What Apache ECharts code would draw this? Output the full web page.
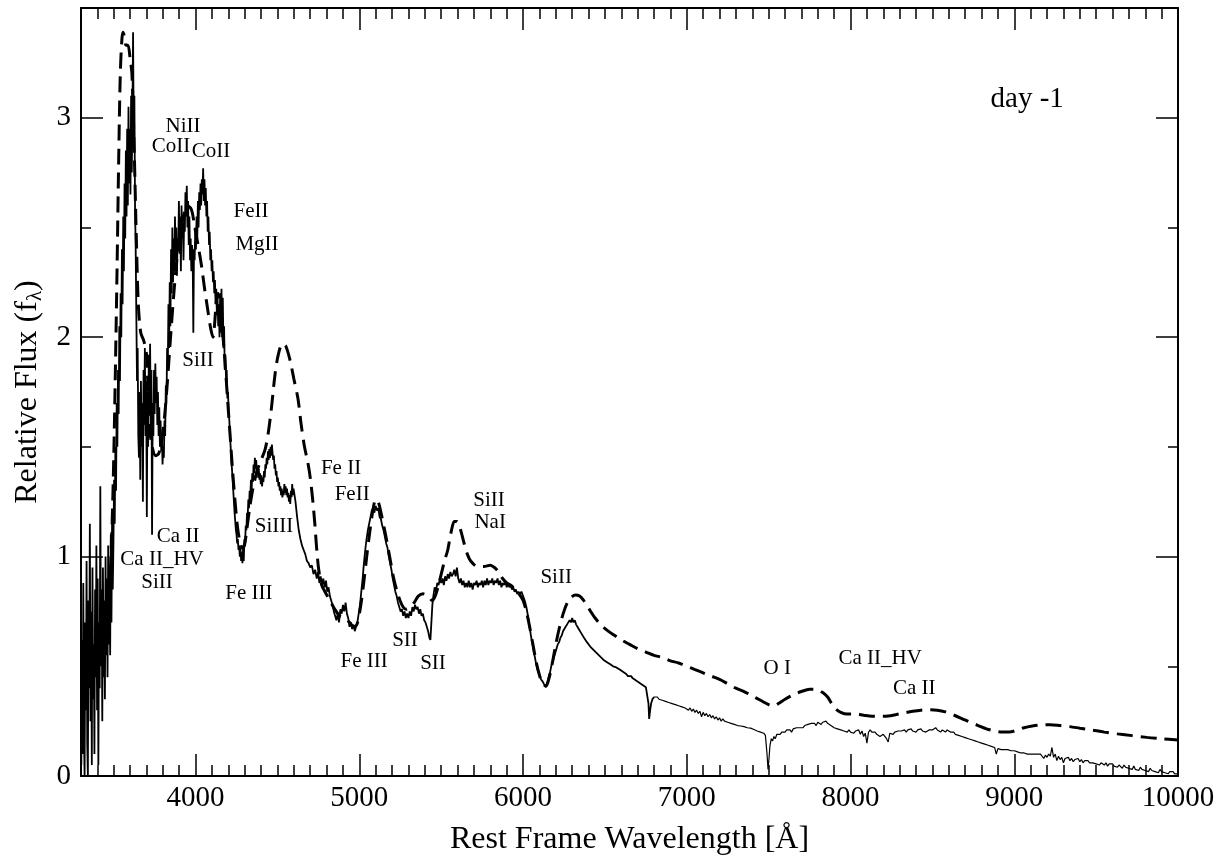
<!DOCTYPE html>
<html>
<head>
<meta charset="utf-8">
<script src="https://cdn.jsdelivr.net/npm/echarts@6/dist/echarts.min.js"></script>
<style>
html,body{margin:0;padding:0;background:#fff;}
#chart{width:1225px;height:859px;}
</style>
</head>
<body>
<div id="chart"></div>
<script>
// ---- Observed spectrum (solid), [wavelength Å, relative flux] ----
const obsBlue = [
[3302,0.05],[3306,0.62],[3310,0.10],[3314,0.88],[3318,0.20],[3322,0.00],[3326,0.70],[3330,0.30],[3334,0.98],[3338,0.15],
[3342,0.00],[3346,0.80],[3350,0.40],[3354,1.15],[3358,0.25],[3362,0.75],[3366,0.05],[3370,0.95],[3374,0.35],[3378,0.60],
[3382,0.10],[3386,0.85],[3390,0.45],[3394,1.05],[3398,0.30],[3402,0.90],[3406,0.05],[3410,0.70],[3414,0.40],[3418,1.32],
[3422,0.50],[3426,0.85],[3430,0.25],[3434,0.95],[3438,0.45],[3442,0.80],[3446,0.35],[3450,1.00],[3454,0.55],[3458,0.90],
[3462,0.45],[3466,1.05],[3470,0.60],[3474,0.95],[3478,0.55],[3482,1.10],[3486,0.70],[3490,1.20],[3494,0.85],[3498,1.05],
[3502,1.35],[3506,1.15],[3510,1.50],[3514,1.30],[3518,1.70],[3522,1.50],[3526,1.85],[3530,1.65],[3534,2.05],[3538,1.80],
[3542,2.20],[3546,2.00],[3550,2.40],[3554,2.15],[3558,2.55],[3562,2.30],[3566,2.70],[3570,2.45],[3574,2.85],[3578,2.55],
[3582,2.95],[3586,2.60],[3590,3.05],[3594,2.70],[3598,2.95],[3602,2.65],[3606,3.10],[3610,2.75],[3614,3.00],[3618,3.39],
[3622,2.90],[3626,3.10],[3630,2.60],[3634,2.40],[3638,2.10],[3642,1.80],[3646,1.95],[3650,1.55],
[3654,1.45],[3658,1.75],[3662,1.35],[3666,1.80],[3670,1.50],[3674,1.70],[3678,1.25],[3682,1.85],[3686,1.60],[3690,1.95],
[3694,1.55],[3698,1.80],[3702,1.18],[3706,1.75],[3710,1.50],[3714,1.92],[3718,1.65],[3722,1.97],[3726,1.60],[3730,1.85],
[3734,1.10],[3738,1.70],[3742,1.55],[3746,1.85],[3750,1.65],[3754,1.88],[3758,1.70],[3762,1.82],[3766,1.60],[3770,1.75],
[3774,1.55],[3778,1.68],[3782,1.50],[3786,1.62],[3790,1.48],[3794,1.55],[3798,1.42],[3802,1.50],[3806,1.45],[3810,1.62],
[3814,1.55],[3818,1.78],[3822,1.70],[3826,1.95],[3830,1.85],[3834,2.15],[3838,1.95],[3842,2.25],[3846,2.05],[3850,2.40],
[3854,2.20],[3858,2.50],[3862,2.25],[3866,2.45],[3870,2.30],[3874,2.55],[3878,2.35],[3882,2.50],[3886,2.28],[3890,2.45],
[3894,2.40],[3898,2.62],[3902,2.38],[3906,2.55],[3910,2.30],[3914,2.60],[3918,2.45],[3922,2.52],[3926,2.35],[3930,2.55],
[3934,2.48],[3938,2.66],[3942,2.55],[3946,2.69],[3950,2.50],[3954,2.62],[3958,2.42],[3962,2.55],[3966,2.35],[3970,2.45],
[3974,2.30],[3978,2.42],[3982,2.38],[3986,2.02],[3990,2.40],[3994,2.35],[3998,2.50],[4002,2.40],[4006,2.55],[4010,2.45],
[4014,2.62],[4018,2.50],[4022,2.66],[4026,2.58],[4030,2.70],[4034,2.60],[4038,2.72],[4042,2.65],[4046,2.77],[4050,2.62],
[4054,2.72],[4058,2.60],[4062,2.68],[4066,2.55],[4070,2.62],[4074,2.48],[4078,2.55],[4082,2.42],[4086,2.48],[4090,2.35],
[4094,2.40],[4098,2.30],[4102,2.35],[4106,2.25],[4110,2.30],[4114,2.20],[4118,2.26],[4122,2.15],[4126,2.22],[4130,2.10],
[4134,2.18],[4138,2.05],[4142,2.15],[4146,2.00],[4150,2.20],[4154,2.02],[4158,2.22],[4162,2.00],[4166,2.18],[4170,1.95],
[4174,2.05],[4178,1.85],[4182,1.92],[4186,1.80],[4190,1.85],[4194,1.72],[4198,1.75],[4202,1.65],[4206,1.62],[4210,1.55],
[4214,1.50],[4218,1.44],[4222,1.40],[4226,1.35],[4230,1.30],[4234,1.25],[4238,1.20],[4242,1.16],[4246,1.12],[4250,1.10],
[4254,1.06],[4258,1.08],[4262,1.03],[4266,1.05],[4270,1.00],[4274,1.04],[4278,0.98],[4282,1.02],[4286,0.97],[4290,1.04],
[4294,0.98],[4298,1.08],[4302,1.05],[4306,1.14],[4310,1.12],[4314,1.20],[4318,1.18],[4322,1.26],[4326,1.22],[4330,1.30],
[4334,1.27],[4338,1.35],[4342,1.30],[4346,1.38],[4350,1.34],[4354,1.42],[4358,1.38],[4362,1.45],[4366,1.40],[4370,1.44],
[4374,1.38],[4378,1.41],[4382,1.36],[4386,1.40],[4390,1.35],[4394,1.38],[4398,1.33],[4402,1.37],[4406,1.32],[4410,1.36],
[4414,1.34],[4418,1.39],[4422,1.36],[4426,1.42],[4430,1.40],[4434,1.45],[4438,1.42],[4442,1.48],[4446,1.44],[4450,1.49],
[4454,1.45],[4458,1.50],[4462,1.46],[4466,1.51],[4470,1.47],[4474,1.44],[4478,1.46],[4482,1.40],[4486,1.42],[4490,1.37],
[4494,1.39],[4498,1.34],[4502,1.36],[4506,1.32],[4510,1.34],[4514,1.30],[4518,1.32],[4522,1.28],[4526,1.31],[4530,1.27],
[4534,1.30],[4538,1.28],[4542,1.33],[4546,1.29],[4550,1.32],[4554,1.28],[4558,1.31],[4562,1.27],[4566,1.29],[4570,1.25],
[4574,1.28],[4578,1.24],[4582,1.30],[4586,1.27],[4590,1.33],[4594,1.28],[4598,1.31],[4602,1.29],[4610,1.25],[4620,1.18],
[4630,1.12],[4640,1.08]
];
const obsMid = [
[4650,1.05],[4660,1.03],[4670,1.01],[4680,0.98],[4690,0.97],[4700,0.95],[4710,0.96],[4720,0.92],[4730,0.94],[4740,0.90],
[4748,0.93],[4756,0.88],[4764,0.91],[4772,0.87],[4780,0.90],[4788,0.86],[4796,0.89],[4804,0.84],[4812,0.86],[4820,0.82],
[4828,0.80],[4836,0.78],[4844,0.75],[4852,0.73],[4860,0.71],[4868,0.74],[4876,0.70],[4884,0.76],[4892,0.74],[4900,0.78],
[4908,0.75],[4916,0.79],[4924,0.74],[4932,0.72],[4940,0.68],[4948,0.70],[4956,0.67],[4964,0.69],[4972,0.66],[4980,0.68],
[4988,0.70],[4996,0.74],[5004,0.78],[5012,0.84],[5020,0.90],[5028,0.97],[5036,1.03],[5044,1.08],[5052,1.12],[5060,1.15],
[5068,1.18],[5076,1.21],[5084,1.22],[5092,1.20],[5100,1.23],[5108,1.21],[5116,1.22],[5124,1.18],[5132,1.17],[5140,1.14],
[5148,1.12],[5156,1.09],[5164,1.06],[5172,1.04],[5180,1.00],[5188,0.97],[5196,0.94],[5204,0.90],[5212,0.87],[5220,0.84],
[5228,0.82],[5236,0.79],[5244,0.77],[5252,0.75],[5260,0.76],[5268,0.73],[5276,0.75],[5284,0.72],[5292,0.74],[5300,0.72],
[5308,0.75],[5316,0.73],[5324,0.77],[5332,0.75],[5340,0.78],[5348,0.76],[5356,0.77],[5364,0.74],[5372,0.76],[5380,0.73],
[5388,0.74],[5396,0.71],[5404,0.70],[5412,0.68],[5420,0.66],[5428,0.63],[5434,0.62],[5440,0.70],[5446,0.78],[5452,0.82],
[5460,0.86],[5468,0.84],[5476,0.88],[5484,0.87],[5492,0.90],[5500,0.88],[5508,0.90],[5516,0.87],[5524,0.91],[5532,0.89],
[5540,0.92],[5548,0.90],[5556,0.93],[5564,0.91],[5572,0.92],[5580,0.94],[5588,0.91],[5596,0.95],[5604,0.90],[5612,0.88],
[5620,0.90],[5628,0.87],[5636,0.89],[5644,0.86],[5652,0.88],[5660,0.86],[5668,0.89],[5676,0.86],[5684,0.88],[5692,0.85],
[5700,0.88],[5708,0.87],[5716,0.89],[5724,0.86],[5732,0.88],[5740,0.87],[5748,0.89],[5756,0.86],[5764,0.89],[5772,0.87],
[5780,0.90],[5788,0.87],[5796,0.89],[5804,0.88],[5812,0.90],[5820,0.87],[5828,0.89],[5836,0.88],[5844,0.90],[5852,0.87],
[5860,0.89],[5868,0.86],[5876,0.88],[5884,0.87],[5892,0.89],[5900,0.86],[5908,0.88],[5916,0.86],[5924,0.87],[5932,0.85],
[5940,0.86],[5948,0.84],[5956,0.85],[5964,0.83],[5972,0.84],[5980,0.83],[5990,0.84],[6000,0.82],[6010,0.80],[6020,0.77],
[6030,0.73],[6040,0.68],[6050,0.63],[6060,0.59],[6070,0.55],[6080,0.51],[6090,0.48],[6100,0.46],[6110,0.44],[6120,0.43],
[6130,0.415],[6140,0.405],[6148,0.41],[6156,0.45],[6164,0.47],[6172,0.50],[6180,0.52],[6188,0.54],[6196,0.56],[6204,0.58],
[6212,0.60],[6220,0.61],[6228,0.63],[6236,0.64],[6244,0.66],[6252,0.67],[6260,0.68],[6268,0.69],[6276,0.70],[6284,0.71],
[6292,0.70],[6300,0.72],[6308,0.70],[6316,0.71],[6324,0.69],[6332,0.68],[6340,0.67],[6348,0.665],[6356,0.65],[6364,0.645],
[6372,0.63],[6380,0.625],[6390,0.61],[6400,0.605],[6410,0.59],[6420,0.585],[6430,0.575],[6440,0.57],[6450,0.56],[6460,0.555],
[6470,0.545],[6480,0.54],[6490,0.53],[6500,0.535],[6510,0.52],[6520,0.515],[6530,0.51],[6540,0.515],[6550,0.50],[6560,0.505],
[6570,0.495],[6580,0.49],[6590,0.485],[6600,0.48],[6610,0.475],[6620,0.47],[6630,0.465],[6640,0.455],[6650,0.45],[6660,0.455],
[6670,0.445],[6680,0.44],[6690,0.435],[6700,0.43],[6710,0.425],[6720,0.42],[6730,0.415],[6740,0.41],[6750,0.405],[6760,0.40],
[6766,0.33],[6770,0.26],[6776,0.30],[6782,0.33],[6790,0.35],[6800,0.36]
];
const obsRed = [
[6810,0.355],[6820,0.36],[6830,0.35],[6840,0.355],[6850,0.345],[6860,0.35],[6870,0.34],[6880,0.345],[6890,0.335],[6900,0.34],
[6910,0.33],[6920,0.335],[6930,0.325],[6940,0.33],[6950,0.32],[6960,0.325],[6970,0.315],[6980,0.32],[6990,0.31],[7000,0.315],
[7010,0.30],[7020,0.31],[7030,0.295],[7040,0.305],[7050,0.29],[7060,0.30],[7070,0.285],[7080,0.295],[7090,0.27],[7100,0.29],
[7110,0.275],[7120,0.285],[7130,0.27],[7140,0.28],[7150,0.265],[7160,0.275],[7170,0.26],[7180,0.27],[7190,0.255],[7200,0.265],
[7210,0.25],[7220,0.26],[7230,0.25],[7240,0.255],[7250,0.245],[7260,0.25],[7270,0.24],[7280,0.245],[7290,0.235],[7300,0.24],
[7310,0.23],[7320,0.235],[7330,0.228],[7340,0.232],[7350,0.225],[7360,0.228],[7370,0.22],[7380,0.225],[7390,0.218],[7400,0.222],
[7410,0.212],[7420,0.215],[7430,0.205],[7440,0.21],[7450,0.2],[7460,0.203],[7470,0.195],[7480,0.185],[7490,0.10],[7496,0.03],
[7502,0.08],[7508,0.14],[7516,0.17],[7524,0.16],[7532,0.18],[7540,0.17],[7550,0.19],[7560,0.185],[7570,0.19],[7580,0.20],
[7590,0.195],[7600,0.20],[7610,0.21],[7620,0.205],[7630,0.21],[7640,0.20],[7650,0.215],[7660,0.21],[7670,0.22],[7680,0.215],
[7690,0.22],[7700,0.225],[7710,0.22],[7720,0.23],[7730,0.225],[7740,0.235],[7750,0.23],[7760,0.24],[7770,0.235],[7780,0.24],
[7790,0.23],[7800,0.245],[7810,0.24],[7820,0.235],[7830,0.245],[7840,0.24],[7850,0.25],[7860,0.24],[7870,0.245],[7880,0.23],
[7890,0.235],[7900,0.22],[7910,0.225],[7920,0.215],[7930,0.22],[7940,0.21],[7950,0.215],[7960,0.205],[7970,0.21],[7980,0.20],
[7990,0.21],[8000,0.20],[8010,0.205],[8020,0.195],[8030,0.205],[8040,0.20],[8050,0.21],[8060,0.19],[8070,0.205],[8080,0.18],
[8090,0.195],[8100,0.15],[8110,0.20],[8120,0.21],[8130,0.20],[8140,0.195],[8150,0.20],[8160,0.19],[8170,0.185],[8180,0.18],
[8190,0.185],[8200,0.19],[8210,0.185],[8220,0.17],[8230,0.155],[8240,0.195],[8250,0.20],[8260,0.19],[8270,0.20],[8280,0.195],
[8290,0.205],[8300,0.20],[8310,0.205],[8320,0.20],[8330,0.21],[8340,0.20],[8350,0.21],[8360,0.205],[8370,0.215],[8380,0.205],
[8390,0.21],[8400,0.20],[8410,0.21],[8420,0.205],[8430,0.215],[8440,0.205],[8450,0.21],[8460,0.20],[8470,0.205],[8480,0.21],
[8490,0.215],[8500,0.21],[8510,0.215],[8520,0.22],[8530,0.21],[8540,0.215],[8550,0.20],[8560,0.21],[8570,0.205],[8580,0.20],
[8590,0.21],[8600,0.205],[8610,0.20],[8620,0.195],[8630,0.20],[8640,0.19],[8650,0.195],[8660,0.185],[8670,0.19],[8680,0.18],
[8690,0.185],[8700,0.175],[8710,0.18],[8720,0.17],[8730,0.175],[8740,0.165],[8750,0.17],[8760,0.16],[8770,0.165],[8780,0.155],
[8790,0.16],[8800,0.15],[8810,0.155],[8820,0.145],[8830,0.15],[8840,0.14],[8850,0.145],[8860,0.135],[8870,0.14],[8880,0.13],
[8890,0.10],[8900,0.125],[8910,0.13],[8920,0.12],[8930,0.125],[8940,0.12],[8950,0.115],[8960,0.12],[8970,0.125],[8980,0.115],
[8990,0.12],[9000,0.115],[9010,0.12],[9020,0.11],[9030,0.115],[9040,0.105],[9050,0.11],[9060,0.105],[9070,0.11],[9080,0.10],
[9090,0.105],[9100,0.10],[9110,0.105],[9120,0.10],[9130,0.095],[9140,0.10],[9150,0.095],[9160,0.10],[9170,0.09],[9180,0.08],
[9190,0.095],[9200,0.085],[9210,0.10],[9220,0.09],[9230,0.13],[9240,0.085],[9250,0.10],[9260,0.07],[9270,0.09],[9280,0.075],
[9290,0.085],[9300,0.06],[9310,0.08],[9320,0.075],[9330,0.085],[9340,0.07],[9350,0.08],[9360,0.065],[9370,0.075],[9380,0.07],
[9390,0.08],[9400,0.065],[9410,0.075],[9420,0.06],[9430,0.07],[9440,0.065],[9450,0.07],[9460,0.06],[9470,0.065],[9480,0.06],
[9490,0.065],[9500,0.055],[9510,0.06],[9520,0.05],[9530,0.06],[9540,0.055],[9550,0.05],[9560,0.06],[9570,0.045],[9580,0.055],
[9590,0.05],[9600,0.055],[9610,0.045],[9620,0.05],[9630,0.04],[9640,0.05],[9650,0.045],[9660,0.035],[9670,0.05],[9680,0.04],
[9690,0.045],[9700,0.035],[9710,0.04],[9720,0.03],[9730,0.045],[9740,0.03],[9750,0.035],[9760,0.025],[9770,0.04],[9780,0.03],
[9790,0.035],[9800,0.025],[9810,0.03],[9820,0.02],[9830,0.035],[9840,0.025],[9850,0.03],[9860,0.02],[9870,0.025],[9880,0.015],
[9890,0.03],[9900,0.02],[9910,0.025],[9920,0.015],[9930,0.02],[9940,0.01],[9950,0.02],[9960,0.015],[9970,0.02],[9980,0.01],
[9990,0.015],[10000,0.01]
];

// ---- Model spectrum (dashed), [wavelength Å, relative flux] ----
const modelSpec = [
[3460,0.60],[3475,0.85],[3490,1.15],[3500,1.45],[3510,1.85],[3520,2.30],[3530,2.80],[3540,3.20],[3550,3.36],[3557,3.39],
[3565,3.37],[3575,3.33],[3587,3.33],[3600,3.27],[3611,3.20],[3625,2.85],[3638,2.45],[3650,2.15],[3665,2.02],[3685,1.98],
[3700,1.92],[3710,1.75],[3720,1.58],[3735,1.50],[3755,1.46],[3775,1.47],[3795,1.54],[3812,1.65],[3828,1.80],[3845,1.98],[3865,2.18],
[3885,2.35],[3905,2.47],[3925,2.55],[3950,2.60],[3975,2.58],[3995,2.50],[4015,2.42],[4035,2.33],[4055,2.22],[4075,2.12],
[4092,2.04],[4106,2.00],[4116,2.06],[4126,2.16],[4136,2.20],[4148,2.16],[4162,2.05],[4178,1.90],[4194,1.73],[4210,1.56],
[4225,1.40],[4240,1.26],[4255,1.14],[4270,1.07],[4285,1.04],[4298,1.05],[4312,1.12],[4330,1.22],[4350,1.31],[4375,1.39],
[4400,1.44],[4425,1.49],[4445,1.57],[4465,1.69],[4485,1.83],[4505,1.92],[4530,1.97],[4550,1.96],[4575,1.90],[4600,1.81],
[4625,1.72],[4645,1.60],[4665,1.50],[4685,1.43],[4700,1.36],[4715,1.26],[4728,1.15],[4740,1.03],[4752,0.94],[4770,0.87],
[4790,0.84],[4820,0.80],[4850,0.76],[4880,0.73],[4910,0.72],[4940,0.70],[4965,0.68],[4985,0.69],[5005,0.76],[5025,0.87],
[5045,1.00],[5065,1.12],[5085,1.22],[5100,1.26],[5115,1.25],[5135,1.19],[5160,1.10],[5185,1.00],[5210,0.90],[5235,0.83],
[5260,0.78],[5285,0.76],[5310,0.77],[5335,0.79],[5360,0.82],[5390,0.83],[5420,0.82],[5445,0.80],[5463,0.82],[5480,0.86],
[5500,0.92],[5520,0.98],[5540,1.03],[5560,1.11],[5580,1.16],[5595,1.16],[5615,1.13],[5640,1.06],[5660,1.01],[5680,0.98],
[5720,0.955],[5760,0.955],[5800,0.96],[5825,0.95],[5850,0.93],[5875,0.90],[5900,0.88],[5925,0.87],[5950,0.85],[5975,0.83],
[6000,0.80],[6020,0.75],[6040,0.68],[6060,0.60],[6080,0.52],[6100,0.46],[6120,0.42],[6140,0.41],[6160,0.45],[6180,0.52],
[6200,0.60],[6220,0.67],[6245,0.74],[6270,0.79],[6295,0.815],[6320,0.825],[6345,0.82],[6370,0.80],[6400,0.765],[6440,0.72],
[6480,0.685],[6520,0.66],[6560,0.64],[6600,0.62],[6650,0.60],[6700,0.58],[6750,0.565],[6800,0.55],[6850,0.54],[6900,0.525],
[6950,0.515],[7000,0.50],[7050,0.485],[7100,0.47],[7150,0.455],[7200,0.44],[7250,0.42],[7300,0.40],[7350,0.385],[7400,0.365],
[7450,0.345],[7500,0.325],[7530,0.318],[7560,0.33],[7600,0.35],[7650,0.37],[7700,0.385],[7750,0.395],[7790,0.395],[7830,0.38],
[7860,0.36],[7885,0.33],[7910,0.305],[7940,0.29],[7980,0.282],[8030,0.283],[8080,0.277],[8130,0.272],[8180,0.272],[8230,0.273],
[8280,0.28],[8330,0.288],[8380,0.295],[8430,0.30],[8480,0.302],[8530,0.30],[8580,0.292],[8630,0.278],[8680,0.262],[8730,0.245],
[8780,0.23],[8830,0.215],[8880,0.205],[8930,0.20],[8970,0.20],[9010,0.207],[9060,0.22],[9110,0.228],[9160,0.233],[9220,0.234],
[9280,0.23],[9340,0.225],[9400,0.218],[9470,0.21],[9550,0.20],[9630,0.192],[9720,0.184],[9810,0.176],[9900,0.17],[10000,0.164]
];

// ---- Line identifications: text, wavelength, flux (label centre) ----
const lineText = ['NiII','CoII','CoII','FeII','MgII','SiII','Ca II','Ca II_HV','SiII','SiIII','Fe III','Fe II','FeII','Fe III','SII','SII','SiII','NaI','SiII','O I','Ca II_HV','Ca II','day -1'];
const lineWave = [3923,3850,4094,4339,4375,4015,3893,3795,3764,4479,4326,4888,4956,5029,5279,5450,5792,5799,6202,7552,8181,8389,9079];
const lineFlux = [2.959,2.868,2.845,2.572,2.420,1.892,1.090,0.985,0.880,1.135,0.830,1.400,1.281,0.524,0.616,0.515,1.254,1.154,0.903,0.492,0.534,0.397,3.083];

// ---- Axes ----
const xRange = [3300, 10000];
const yRange = [0, 3.5];
const xTitle = 'Rest Frame Wavelength [Å]';
const yTitle = 'Relative Flux (f{sub|λ})';

const FONT = 'Liberation Serif';
const BLACK = '#000';

const chart = echarts.init(document.getElementById('chart'), null, {renderer: 'canvas'});

function xAxisDef(pos, major) {
  return {
    type: 'value', position: pos, min: xRange[0], max: xRange[1],
    minInterval: major ? 1000 : undefined, maxInterval: major ? 1000 : undefined,
    splitNumber: major ? 7 : undefined,
    interval: major ? undefined : 100,
    axisLine: {show: major, onZero: false, lineStyle: {color: BLACK, width: 2}},
    axisTick: {show: true, inside: true, length: major ? 22 : 11, lineStyle: {color: BLACK, width: 1.5}},
    axisLabel: {show: major && pos === 'bottom', showMinLabel: false, color: BLACK, fontFamily: FONT, fontSize: 29, margin: 8,
      formatter: v => String(Math.round(v))},
    splitLine: {show: false},
    name: (major && pos === 'bottom') ? xTitle : '',
    nameLocation: 'middle', nameGap: 48,
    nameTextStyle: {color: BLACK, fontFamily: FONT, fontSize: 32}
  };
}
function yAxisDef(pos, major) {
  return {
    type: 'value', position: pos, min: yRange[0], max: yRange[1],
    interval: major ? 1 : 0.5,
    axisLine: {show: major, onZero: false, lineStyle: {color: BLACK, width: 2}},
    axisTick: {show: true, inside: true, length: major ? 22 : 10, lineStyle: {color: BLACK, width: 1.5}},
    axisLabel: {show: major && pos === 'left', showMaxLabel: false, color: BLACK, fontFamily: FONT, fontSize: 29, margin: 10},
    splitLine: {show: false},
    name: (major && pos === 'left') ? yTitle : '',
    nameLocation: 'middle', nameGap: 34,
    nameTextStyle: {color: BLACK, fontFamily: FONT, fontSize: 32, lineHeight: 36,
      rich: {sub: {fontFamily: FONT, fontSize: 21, lineHeight: 22, verticalAlign: 'bottom', color: BLACK}}}
  };
}

const labelData = lineText.map((t, i) => [lineWave[i], lineFlux[i]]);
const obsThick = obsBlue.concat(obsMid);
const obsThin = [obsMid[obsMid.length - 1]].concat(obsRed);

const option = {
  animation: false,
  backgroundColor: '#fff',
  grid: {left: 81, right: 47, top: 8, bottom: 83, containLabel: false, outerBoundsMode: 'none'},
  xAxis: [xAxisDef('bottom', true), xAxisDef('bottom', false), xAxisDef('top', true), xAxisDef('top', false)],
  yAxis: [yAxisDef('left', true), yAxisDef('left', false), yAxisDef('right', true), yAxisDef('right', false)],
  series: [
    {
      type: 'line', name: 'observed', xAxisIndex: 0, yAxisIndex: 0,
      data: obsThick,
      showSymbol: false, symbol: 'none', silent: true, clip: true,
      lineStyle: {color: BLACK, width: 1.8}, z: 3
    },
    {
      type: 'line', name: 'observed-red', xAxisIndex: 0, yAxisIndex: 0,
      data: obsThin,
      showSymbol: false, symbol: 'none', silent: true, clip: true,
      lineStyle: {color: BLACK, width: 1.2}, z: 3
    },
    {
      type: 'line', name: 'model', xAxisIndex: 0, yAxisIndex: 0,
      data: modelSpec, smooth: 0.3,
      showSymbol: false, symbol: 'none', silent: true, clip: true,
      lineStyle: {color: BLACK, width: 3, type: [16, 8]}, z: 4
    },
    {
      type: 'custom', name: 'labels', xAxisIndex: 0, yAxisIndex: 0, data: labelData, silent: true, z: 5,
      renderItem: function (params, api) {
        const p = api.coord([api.value(0), api.value(1)]);
        const txt = lineText[params.dataIndex];
        const size = txt === 'day -1' ? 29 : 21;
        return {
          type: 'text', x: p[0], y: p[1],
          style: {text: txt, fill: BLACK, font: size + 'px "' + FONT + '"', align: 'center', verticalAlign: 'middle'}
        };
      }
    }
  ]
};
chart.setOption(option);
</script>
</body>
</html>
